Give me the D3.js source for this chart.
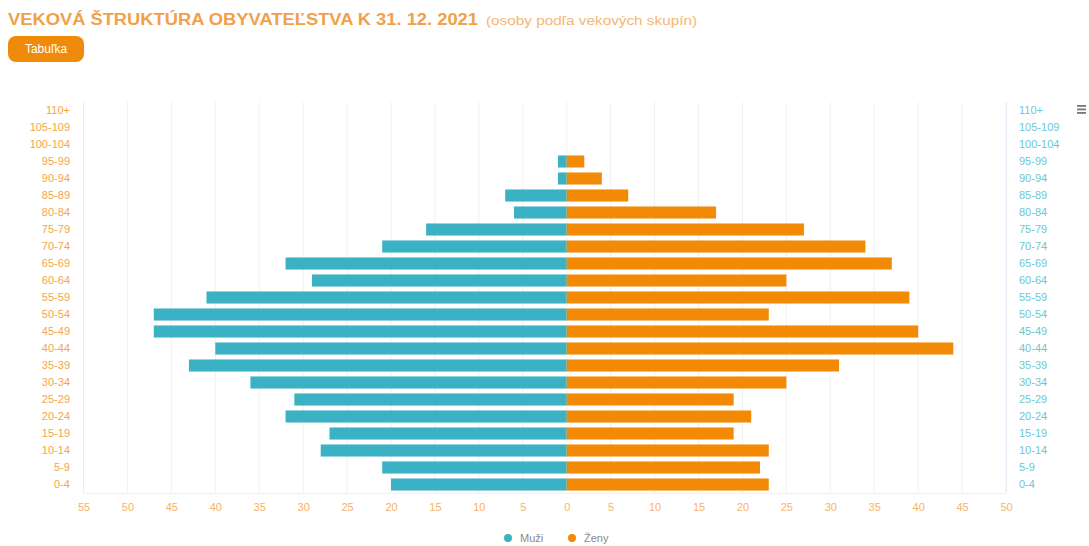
<!DOCTYPE html>
<html><head><meta charset="utf-8">
<script src="https://cdn.jsdelivr.net/npm/d3@7"></script>
<style>
html,body{margin:0;padding:0;background:#fff;}
svg{display:block;font-family:"Liberation Sans",Arial,sans-serif;}
</style></head>
<body>
<svg id="chart" width="1089" height="546"></svg>
<script>
const categories = ["110+","105-109","100-104","95-99","90-94","85-89","80-84","75-79","70-74","65-69","60-64","55-59","50-54","45-49","40-44","35-39","30-34","25-29","20-24","15-19","10-14","5-9","0-4"];
const muzi = [0,0,0,1,1,7,6,16,21,32,29,41,47,47,40,43,36,31,32,27,28,21,20];
const zeny = [0,0,0,2,4,7,17,27,34,37,25,39,23,40,44,31,25,19,21,19,23,22,23];
const xTicks = [-55,-50,-45,-40,-35,-30,-25,-20,-15,-10,-5,0,5,10,15,20,25,30,35,40,45,50];
const seriesNames = ["Muži","Ženy"];
const titleText = "VEKOVÁ ŠTRUKTÚRA OBYVATEĽSTVA K 31. 12. 2021";
const subtitleText = "(osoby podľa vekových skupín)";
const buttonText = "Tabuľka";

const colM = "#3ab2c4", colZ = "#f28a06";
const svg = d3.select("#chart");

const x = d3.scaleLinear().domain([-55, 50]).range([83.5, 1006]);
const y = d3.scaleBand().domain(categories).range([102, 493]).paddingInner(0.29).paddingOuter(0.145);

// gridlines
svg.append("g").selectAll("line").data(xTicks).join("line")
  .attr("x1", d => x(d)).attr("x2", d => x(d))
  .attr("y1", 102).attr("y2", 493)
  .attr("stroke", "#f0f0f0").attr("stroke-width", 1);

// axis lines
svg.append("line").attr("x1", 83.5).attr("x2", 83.5).attr("y1", 102).attr("y2", 493).attr("stroke", "#e8eaf6");
svg.append("line").attr("x1", 1006.5).attr("x2", 1006.5).attr("y1", 102).attr("y2", 493).attr("stroke", "#e8eaf6");
svg.append("line").attr("x1", 83.5).attr("x2", 1006.5).attr("y1", 493.5).attr("y2", 493.5).attr("stroke", "#eef0f6");

// bars
const bh = y.bandwidth();
svg.append("g").selectAll("rect").data(categories.map((c,i)=>({c, v: muzi[i]}))).join("rect")
  .attr("x", d => x(-d.v)).attr("width", d => x(0) - x(-d.v))
  .attr("y", d => y(d.c)).attr("height", bh).attr("fill", colM);
svg.append("g").selectAll("rect").data(categories.map((c,i)=>({c, v: zeny[i]}))).join("rect")
  .attr("x", x(0)).attr("width", d => x(d.v) - x(0))
  .attr("y", d => y(d.c)).attr("height", bh).attr("fill", colZ);

// left axis labels
const yL = d3.axisLeft(y).tickSize(0).tickPadding(0);
const gL = svg.append("g").attr("transform", "translate(70,0)").call(yL);
gL.select(".domain").remove();
gL.selectAll("text").attr("fill", "#f5a54a").attr("font-size", 11).attr("font-family", "Liberation Sans, Arial, sans-serif");

// right axis labels
const yR = d3.axisRight(y).tickSize(0).tickPadding(0);
const gR = svg.append("g").attr("transform", "translate(1019,0)").call(yR);
gR.select(".domain").remove();
gR.selectAll("text").attr("fill", "#6cc7d3").attr("font-size", 11).attr("font-family", "Liberation Sans, Arial, sans-serif");

// x axis
const xA = d3.axisBottom(x).tickValues(xTicks).tickFormat(d => Math.abs(d)).tickSize(0).tickPadding(0);
const gX = svg.append("g").attr("transform", "translate(0,503)").call(xA);
gX.select(".domain").remove();
gX.selectAll("text").attr("fill", "#f5b366").attr("font-size", 11).attr("font-family", "Liberation Sans, Arial, sans-serif");

// title
svg.append("text").attr("x", 8).attr("y", 25).attr("font-weight", "bold").attr("font-size", 16)
  .attr("fill", "#f2a04a").attr("textLength", 470).attr("lengthAdjust", "spacingAndGlyphs").text(titleText);
svg.append("text").attr("x", 486).attr("y", 25).attr("font-size", 12.5)
  .attr("fill", "#f5b672").attr("textLength", 211).attr("lengthAdjust", "spacingAndGlyphs").text(subtitleText);

// button
svg.append("rect").attr("x", 8).attr("y", 36).attr("width", 76).attr("height", 26).attr("rx", 8).attr("fill", "#f08a0a");
svg.append("text").attr("x", 46).attr("y", 53).attr("text-anchor", "middle").attr("fill", "#fff")
  .attr("font-size", 12).text(buttonText);

// menu icon
const mg = svg.append("g");
[0,1,2].forEach(i => mg.append("rect").attr("x", 1077).attr("y", 105 + i*3.5).attr("width", 9).attr("height", 1.8).attr("fill", "#777"));

// legend
const lg = svg.append("g").attr("font-size", 11);
const legendItems = [{n: seriesNames[0], c: colM, x: 508}, {n: seriesNames[1], c: colZ, x: 572}];
legendItems.forEach(it => {
  lg.append("circle").attr("cx", it.x).attr("cy", 538).attr("r", 4).attr("fill", it.c);
  lg.append("text").attr("x", it.x + 12).attr("y", 542).attr("fill", "#8a8a8a").text(it.n);
});
</script>
</body></html>
